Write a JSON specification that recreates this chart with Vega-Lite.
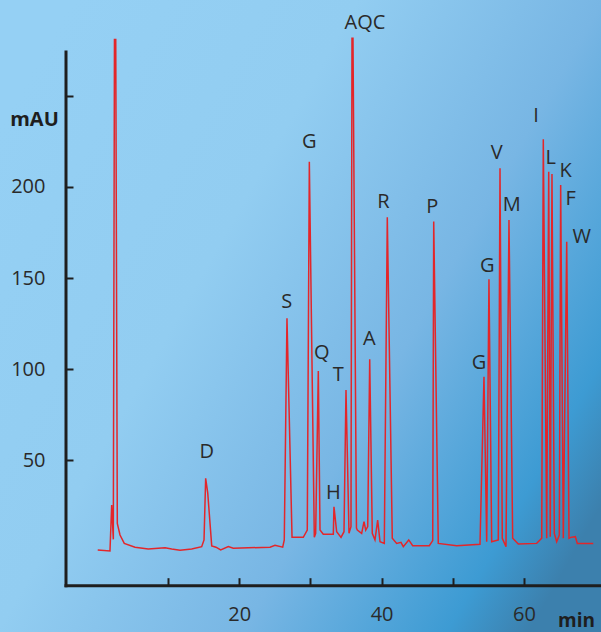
{
  "$schema": "https://vega.github.io/schema/vega-lite/v6.json",
  "width": 601,
  "height": 632,
  "autosize": {"type": "none"},
  "padding": 0,
  "background": "#8fcbf0",
  "config": {
    "view": {
      "stroke": null,
      "fill": {
        "gradient": "linear",
        "x1": 0, "y1": 0.2, "x2": 1, "y2": 0.8,
        "stops": [
          {"offset": 0, "color": "#95d0f4"},
          {"offset": 0.35, "color": "#92cdf1"},
          {"offset": 0.65, "color": "#78b6e4"},
          {"offset": 0.9, "color": "#3d9bd3"},
          {"offset": 1, "color": "#3c80ad"}
        ]
      }
    },
    "font": "Open Sans",
    "text": {"font": "Open Sans"}
  },
  "datasets": {
    "trace": [
      {"t": 0.13, "v": 0.8}, {"t": 1.85, "v": 0.2}, {"t": 2.09, "v": 25.5}, {"t": 2.32, "v": 6.6},
      {"t": 2.48, "v": 281}, {"t": 2.66, "v": 281}, {"t": 2.88, "v": 15.4}, {"t": 3.26, "v": 9.0},
      {"t": 3.86, "v": 4.4}, {"t": 5.37, "v": 2.3}, {"t": 7.23, "v": 1.3}, {"t": 9.58, "v": 2.0},
      {"t": 10.52, "v": 1.3}, {"t": 11.69, "v": 0.6}, {"t": 13.33, "v": 1.3}, {"t": 14.73, "v": 2.6},
      {"t": 15.06, "v": 6.3}, {"t": 15.29, "v": 40.1}, {"t": 15.58, "v": 32.1}, {"t": 16.14, "v": 3.0},
      {"t": 16.74, "v": 2.3}, {"t": 17.4, "v": 0.8}, {"t": 18.47, "v": 2.6}, {"t": 19.17, "v": 1.7},
      {"t": 24.33, "v": 2.3}, {"t": 25.03, "v": 3.3}, {"t": 26.11, "v": 2.3}, {"t": 26.33, "v": 6.3},
      {"t": 26.71, "v": 127.9}, {"t": 27.42, "v": 7.7}, {"t": 29.0, "v": 7.7}, {"t": 29.56, "v": 11.7},
      {"t": 29.85, "v": 213.9}, {"t": 30.55, "v": 7.7}, {"t": 30.74, "v": 9.9}, {"t": 31.11, "v": 99.0},
      {"t": 31.35, "v": 11.7}, {"t": 31.81, "v": 9.4}, {"t": 33.22, "v": 9.4}, {"t": 33.31, "v": 24.5},
      {"t": 33.69, "v": 10.8}, {"t": 34.3, "v": 7.7}, {"t": 34.72, "v": 10.8}, {"t": 35.0, "v": 88.6},
      {"t": 35.42, "v": 9.9}, {"t": 35.7, "v": 13.6}, {"t": 35.84, "v": 281.6}, {"t": 35.98, "v": 281.6},
      {"t": 36.47, "v": 12.8}, {"t": 36.59, "v": 11.7}, {"t": 37.2, "v": 9.9}, {"t": 37.53, "v": 16.3},
      {"t": 37.77, "v": 11.7}, {"t": 38.05, "v": 13.6}, {"t": 38.33, "v": 105.4}, {"t": 38.69, "v": 9.9},
      {"t": 39.07, "v": 6.3}, {"t": 39.45, "v": 17.2}, {"t": 39.78, "v": 5.3}, {"t": 40.38, "v": 4.4},
      {"t": 40.8, "v": 183.4}, {"t": 41.5, "v": 7.2}, {"t": 42.12, "v": 4.4}, {"t": 42.72, "v": 5.0},
      {"t": 43.05, "v": 2.6}, {"t": 43.81, "v": 6.3}, {"t": 44.37, "v": 3.1}, {"t": 46.7, "v": 3.1},
      {"t": 47.18, "v": 5.9}, {"t": 47.32, "v": 181.0}, {"t": 47.96, "v": 4.4}, {"t": 50.55, "v": 3.1},
      {"t": 53.82, "v": 3.9}, {"t": 54.38, "v": 95.9}, {"t": 54.76, "v": 5.3}, {"t": 55.08, "v": 149.3},
      {"t": 55.46, "v": 5.3}, {"t": 56.39, "v": 6.3}, {"t": 56.63, "v": 210.3}, {"t": 56.95, "v": 7.2},
      {"t": 57.47, "v": 2.6}, {"t": 57.89, "v": 181.9}, {"t": 58.41, "v": 7.2}, {"t": 59.2, "v": 4.1},
      {"t": 61.78, "v": 4.4}, {"t": 62.49, "v": 7.2}, {"t": 62.71, "v": 226.2}, {"t": 63.19, "v": 7.2},
      {"t": 63.47, "v": 208.4}, {"t": 63.69, "v": 8.1}, {"t": 63.93, "v": 207.1}, {"t": 64.26, "v": 9.9},
      {"t": 64.59, "v": 5.3}, {"t": 64.96, "v": 9.0}, {"t": 65.15, "v": 201.1}, {"t": 65.52, "v": 7.2},
      {"t": 66.0, "v": 170.0}, {"t": 66.32, "v": 7.2}, {"t": 66.56, "v": 7.7}, {"t": 67.21, "v": 8.1},
      {"t": 67.49, "v": 4.4}, {"t": 69.73, "v": 4.4}
    ],
    "labels": [
      {"label": "D", "t": 15.44, "v": 54.4},
      {"label": "S", "t": 26.67, "v": 137.0},
      {"label": "G", "t": 29.85, "v": 224.9},
      {"label": "AQC", "t": 37.67, "v": 290.2},
      {"label": "Q", "t": 31.59, "v": 109.1},
      {"label": "T", "t": 33.92, "v": 96.8},
      {"label": "H", "t": 33.22, "v": 32.2},
      {"label": "A", "t": 38.27, "v": 116.4},
      {"label": "R", "t": 40.24, "v": 191.9},
      {"label": "P", "t": 47.12, "v": 189.2},
      {"label": "G", "t": 53.68, "v": 103.6},
      {"label": "G", "t": 54.85, "v": 156.6},
      {"label": "V", "t": 56.17, "v": 218.5},
      {"label": "M", "t": 58.27, "v": 190.1},
      {"label": "I", "t": 61.69, "v": 239.0},
      {"label": "L", "t": 63.75, "v": 215.8},
      {"label": "K", "t": 65.86, "v": 208.9},
      {"label": "F", "t": 66.56, "v": 193.4},
      {"label": "W", "t": 68.1, "v": 172.4}
    ]
  },
  "layer": [
    {
      "data": {"values": [{}]},
      "mark": {"type": "rule", "color": "#1e1e1e", "strokeWidth": 3, "strokeCap": "square", "clip": false},
      "encoding": {
        "x": {"datum": -4.326, "type": "quantitative"},
        "y": {"datum": -18.83, "type": "quantitative"},
        "y2": {"datum": 274.1}
      }
    },
    {
      "data": {"values": [{}]},
      "mark": {"type": "rule", "color": "#1e1e1e", "strokeWidth": 3, "strokeCap": "square", "clip": false},
      "encoding": {
        "x": {"datum": -4.326, "type": "quantitative"},
        "x2": {"datum": 71.5},
        "y": {"datum": -18.83, "type": "quantitative"}
      }
    },
    {
      "data": {"name": "trace"},
      "mark": {"type": "line", "color": "#e3262a", "strokeWidth": 1.5, "interpolate": "linear", "clip": false},
      "encoding": {
        "x": {
          "field": "t", "type": "quantitative",
          "scale": {"domain": [-13.596, 70.815], "nice": false, "zero": false},
          "axis": {
            "orient": "bottom", "offset": -46.3, "domain": false, "grid": false,
            "values": [10, 20, 30, 40, 50, 60],
            "labelExpr": "datum.value % 20 === 0 ? datum.label : ''",
            "tickSize": -8, "tickWidth": 2, "tickColor": "#1e1e1e",
            "labelPadding": 27, "labelFontSize": 20, "labelColor": "#2a2a2a", "labelFont": "Open Sans",
            "title": "min", "titleFontSize": 19, "titleFontWeight": "bold", "titleColor": "#1e1e1e",
            "titleX": 576, "titleY": 40.5, "titleAlign": "center", "titleBaseline": "alphabetic", "titleFont": "Open Sans"
          }
        },
        "y": {
          "field": "v", "type": "quantitative",
          "scale": {"domain": [-44.24, 302.63], "nice": false, "zero": false},
          "axis": {
            "orient": "left", "offset": -66, "domain": false, "grid": false,
            "values": [50, 100, 150, 200, 250],
            "labelExpr": "datum.value >= 250 ? '' : datum.label",
            "tickSize": -7, "tickWidth": 2, "tickColor": "#1e1e1e",
            "labelPadding": 28, "labelFontSize": 20, "labelColor": "#2a2a2a", "labelFont": "Open Sans",
            "title": "mAU", "titleAngle": 0, "titleFontSize": 20, "titleFontWeight": "bold", "titleColor": "#1e1e1e",
            "titleX": -32, "titleY": 119, "titleAlign": "center", "titleBaseline": "middle", "titleFont": "Open Sans"
          }
        }
      }
    },
    {
      "data": {"name": "labels"},
      "mark": {"type": "text", "fontSize": 20, "color": "#2a2a2a", "align": "center", "baseline": "middle", "font": "Open Sans"},
      "encoding": {
        "x": {"field": "t", "type": "quantitative"},
        "y": {"field": "v", "type": "quantitative"},
        "text": {"field": "label"}
      }
    }
  ]
}
